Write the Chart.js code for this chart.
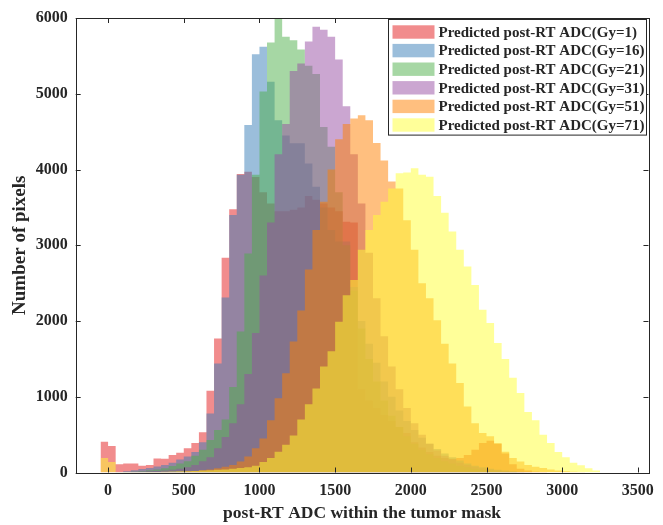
<!DOCTYPE html>
<html>
<head>
<meta charset="utf-8">
<title>post-RT ADC histograms</title>
<script src="https://cdn.jsdelivr.net/npm/chart.js@4.4.1/dist/chart.umd.min.js"></script>
<style>
  html, body { margin: 0; padding: 0; background: #fff; }
  #wrap { width: 663px; height: 525px; }
</style>
</head>
<body>
<div id="wrap"><canvas id="hist" width="663" height="525"></canvas></div>
<script>
// histogram bins: 50 wide, first left edge at -50
const binStart = -50;
const binWidth = 50;

const seriesLabels = [
  'Predicted post-RT ADC(Gy=1)',
  'Predicted post-RT ADC(Gy=16)',
  'Predicted post-RT ADC(Gy=21)',
  'Predicted post-RT ADC(Gy=31)',
  'Predicted post-RT ADC(Gy=51)',
  'Predicted post-RT ADC(Gy=71)'
];

const xTicks = [0, 500, 1000, 1500, 2000, 2500, 3000, 3500];
const yTicks = [0, 1000, 2000, 3000, 4000, 5000, 6000];

// pixel counts per bin (66 bins, -50 .. 3250)
const gy1 = [405, 350, 110, 120, 120, 90, 100, 185, 180, 230, 260, 320, 390, 530, 1080, 1770,
  2835, 3475, 3940, 3970, 3900, 3700, 3550, 3450, 3450, 3470, 3500, 3650, 3600, 3550, 3500, 3450,
  3310, 3300, 1100, 950, 850, 760, 680, 600, 520, 400, 330, 270, 220, 190, 180, 190,
  230, 300, 390, 420, 380, 250, 110, 50, 25, 10, 5, 0, 0, 0, 0, 0, 0, 0];
const gy16 = [0, 0, 5, 15, 30, 45, 60, 80, 100, 130, 170, 210, 270, 400, 780, 1440,
  2310, 3400, 3930, 4587, 5522, 5621, 5160, 4650, 4450, 4345, 4345, 4080, 3773, 3500, 3200, 3050,
  3050, 2450, 2000, 1700, 1450, 1200, 1000, 820, 680, 560, 460, 380, 310, 250, 200, 160,
  120, 90, 70, 50, 35, 25, 15, 10, 5, 0, 0, 0, 0, 0, 0, 0, 0, 0];
const gy21 = [0, 0, 0, 5, 10, 15, 30, 40, 55, 85, 120, 150, 220, 300, 430, 560,
  700, 1130, 1860, 2890, 3930, 5030, 5678, 5986, 5753, 5707, 5584, 5370, 5260, 4560, 4300, 3700,
  3000, 2400, 1900, 1500, 1200, 950, 750, 600, 480, 380, 300, 240, 190, 150, 120, 90,
  70, 50, 35, 25, 15, 10, 5, 0, 0, 0, 0, 0, 0, 0, 0, 0, 0, 0];
const gy31 = [0, 0, 0, 0, 5, 10, 15, 20, 25, 35, 50, 70, 100, 150, 200, 320,
  470, 650, 900, 1300, 1840, 2600, 3300, 4200, 4600, 5300, 5400, 5690, 5883, 5845, 5751, 5452,
  4836, 4200, 3550, 2900, 2300, 1800, 1400, 1100, 850, 650, 500, 380, 290, 220, 170, 130,
  100, 75, 55, 40, 30, 20, 12, 6, 0, 0, 0, 0, 0, 0, 0, 0, 0, 0];
const gy51 = [0, 0, 0, 0, 0, 0, 2, 3, 5, 8, 10, 15, 20, 30, 40, 55,
  75, 100, 145, 210, 320, 450, 690, 980, 1310, 1730, 2140, 2680, 3200, 3575, 4000, 4400,
  4600, 4673, 4717, 4650, 4350, 4120, 3840, 3750, 3330, 2940, 2500, 2300, 2010, 1700, 1440, 1180,
  870, 650, 520, 480, 385, 275, 190, 145, 100, 77, 60, 40, 25, 15, 10, 5, 0, 0];
const gy71 = [190, 140, 5, 5, 5, 5, 5, 8, 10, 12, 15, 18, 20, 25, 30, 35,
  40, 50, 60, 70, 90, 140, 190, 275, 365, 490, 700, 900, 1110, 1400, 1600, 1990,
  2340, 2540, 2940, 3200, 3400, 3575, 3750, 3950, 3960, 4015, 3930, 3905, 3650, 3430, 3180, 2940,
  2720, 2475, 2150, 1975, 1710, 1500, 1250, 1050, 800, 690, 500, 390, 270, 200, 130, 95, 55, 25];

const counts = [gy1, gy16, gy21, gy31, gy51, gy71];

// Set1-like face colours, half transparent
const faceColors = [
  'rgba(228,26,28,0.5)',
  'rgba(55,126,184,0.5)',
  'rgba(77,175,74,0.5)',
  'rgba(152,78,163,0.5)',
  'rgba(255,127,0,0.5)',
  'rgba(255,255,51,0.5)'
];

const axisColor = '#262626';
const serif = "'Liberation Serif', 'Times New Roman', serif";

// one stepped outline per histogram: a point at every left bin edge, plus the closing right edge
function histPoints(values) {
  const pts = values.map((v, i) => ({ x: binStart + i * binWidth, y: v }));
  pts.push({ x: binStart + values.length * binWidth, y: 0 });
  return pts;
}

const datasets = counts.map((vals, i) => ({
  label: seriesLabels[i],
  data: histPoints(vals),
  stepped: 'before',
  fill: 'origin',
  backgroundColor: faceColors[i],
  borderColor: 'rgba(0,0,0,0)',
  borderWidth: 0,
  pointRadius: 0,
  pointHoverRadius: 0,
  // later series are drawn on top
  order: counts.length - i
}));

// box around the axes and inward tick marks on all four sides
const axesBox = {
  id: 'axesBox',
  afterDatasetsDraw(chart) {
    const { ctx, chartArea: a, scales } = chart;
    const len = 5;
    ctx.save();
    ctx.strokeStyle = axisColor;
    ctx.lineWidth = 1;
    ctx.beginPath();
    xTicks.forEach(v => {
      const px = Math.round(scales.x.getPixelForValue(v)) + 0.5;
      ctx.moveTo(px, a.bottom); ctx.lineTo(px, a.bottom - len);
      ctx.moveTo(px, a.top); ctx.lineTo(px, a.top + len);
    });
    yTicks.forEach(v => {
      const py = Math.round(scales.y.getPixelForValue(v)) + 0.5;
      ctx.moveTo(a.left, py); ctx.lineTo(a.left + len, py);
      ctx.moveTo(a.right, py); ctx.lineTo(a.right - len, py);
    });
    ctx.stroke();
    ctx.strokeRect(Math.round(a.left) + 0.5, Math.round(a.top) + 0.5,
      Math.round(a.right - a.left), Math.round(a.bottom - a.top));
    ctx.restore();
  }
};

// legend box in the upper right corner of the axes
const insideLegend = {
  id: 'insideLegend',
  afterDraw(chart) {
    const { ctx, chartArea: a } = chart;
    const right = Math.round(a.right) - 1.5;
    const top = Math.round(a.top) + 1.5;
    const left = 388.5;
    const rowH = 18.6;
    const bottom = top + rowH * seriesLabels.length + 4;
    ctx.save();
    ctx.fillStyle = '#fff';
    ctx.fillRect(left, top, right - left, bottom - top);
    ctx.strokeStyle = axisColor;
    ctx.lineWidth = 1;
    ctx.strokeRect(left, top, right - left, bottom - top);
    ctx.font = 'bold 15px ' + serif;
    ctx.textBaseline = 'middle';
    seriesLabels.forEach((lab, i) => {
      const cy = top + 12.5 + i * rowH;
      ctx.fillStyle = faceColors[i];
      ctx.fillRect(left + 4, cy - 6.7, 42, 13.4);
      ctx.fillStyle = axisColor;
      ctx.fillText(lab, left + 50, cy + 1);
    });
    ctx.restore();
  }
};

const plainNumber = v => String(v);

new Chart(document.getElementById('hist'), {
  type: 'line',
  data: { datasets },
  options: {
    responsive: false,
    animation: false,
    devicePixelRatio: 1,
    events: [],
    layout: { padding: { top: 18, right: 7, left: 0, bottom: 0 } },
    plugins: {
      legend: { display: false },
      tooltip: { enabled: false },
      filler: { drawTime: 'beforeDatasetDraw' }
    },
    scales: {
      x: {
        type: 'linear',
        min: -214,
        max: 3570,
        grid: { display: false, drawTicks: false },
        border: { display: false },
        afterBuildTicks: s => { s.ticks = xTicks.map(v => ({ value: v })); },
        afterFit: s => { s.height = 52.5; },
        ticks: {
          autoSkip: false, maxRotation: 0, padding: 9,
          color: axisColor,
          callback: plainNumber,
          font: { family: serif, size: 16, weight: 'bold' }
        },
        title: {
          display: true,
          text: 'post-RT ADC within the tumor mask',
          color: axisColor,
          font: { family: serif, size: 17.5, weight: 'bold' },
          padding: { top: 0, bottom: 1 }
        }
      },
      y: {
        min: 0,
        max: 6000,
        grid: { display: false, drawTicks: false },
        border: { display: false },
        afterBuildTicks: s => { s.ticks = yTicks.map(v => ({ value: v })); },
        afterFit: s => { s.width = 75.7; },
        ticks: {
          padding: 8,
          color: axisColor,
          callback: plainNumber,
          font: { family: serif, size: 16, weight: 'bold' }
        },
        title: {
          display: true,
          text: 'Number of pixels',
          color: axisColor,
          font: { family: serif, size: 19, weight: 'bold' },
          padding: { top: 9, bottom: 0 }
        }
      }
    }
  },
  plugins: [axesBox, insideLegend]
});
</script>
</body>
</html>
